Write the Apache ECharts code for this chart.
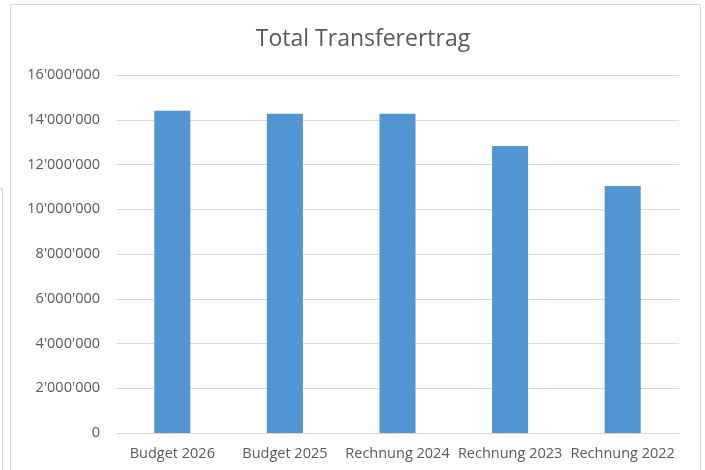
<!DOCTYPE html>
<html>
<head>
<meta charset="utf-8">
<script src="https://cdn.jsdelivr.net/npm/echarts@6/dist/echarts.min.js"></script>
<style>
html, body { margin: 0; padding: 0; background: #fff; }
#main { width: 705px; height: 470px; }
</style>
</head>
<body>
<div id="main"></div>
<script>
var categories = ['Budget 2026', 'Budget 2025', 'Rechnung 2024', 'Rechnung 2023', 'Rechnung 2022'];
var values = [14400000, 14270000, 14270000, 12830000, 11040000];

function fmt(v) {
	return String(v).replace(/\B(?=(\d{3})+(?!\d))/g, "'");
}

var myChart = echarts.init(document.getElementById('main'));

var option = {
	backgroundColor: '#fff',
	textStyle: { fontFamily: 'Open Sans' },
	title: {
		text: 'Total Transferertrag',
		left: 358,
		textAlign: 'center',
		top: 23,
		textStyle: { fontSize: 23, fontWeight: 'normal', color: '#595959', fontFamily: 'Open Sans' }
	},
	graphic: [
		{ type: 'rect', shape: { x: 10.5, y: 4.5, width: 690, height: 480 }, style: { fill: 'none', stroke: '#d9d9d9', lineWidth: 1 }, silent: true },
		{ type: 'polyline', shape: { points: [[0, 188.5], [2.5, 188.5], [2.5, 470]] }, style: { fill: 'none', stroke: '#d9d9d9', lineWidth: 1 }, silent: true }
	],
	grid: { left: 116, right: 26, top: 75, bottom: 37, containLabel: false },
	xAxis: {
		type: 'category',
		data: categories,
		axisLine: { lineStyle: { color: '#d9d9d9' } },
		axisTick: { show: false },
		axisLabel: { color: '#595959', fontSize: 14.5, margin: 13, interval: 0 }
	},
	yAxis: {
		type: 'value',
		min: 0,
		max: 16000000,
		interval: 2000000,
		axisLine: { show: false },
		axisTick: { show: false },
		splitLine: { lineStyle: { color: '#d9d9d9' } },
		axisLabel: { color: '#595959', fontSize: 14.5, margin: 16, formatter: fmt }
	},
	series: [{
		type: 'bar',
		data: values,
		barWidth: '32%',
		itemStyle: { color: '#5196d2' },
		animation: false
	}]
};
myChart.setOption(option);
</script>
</body>
</html>
